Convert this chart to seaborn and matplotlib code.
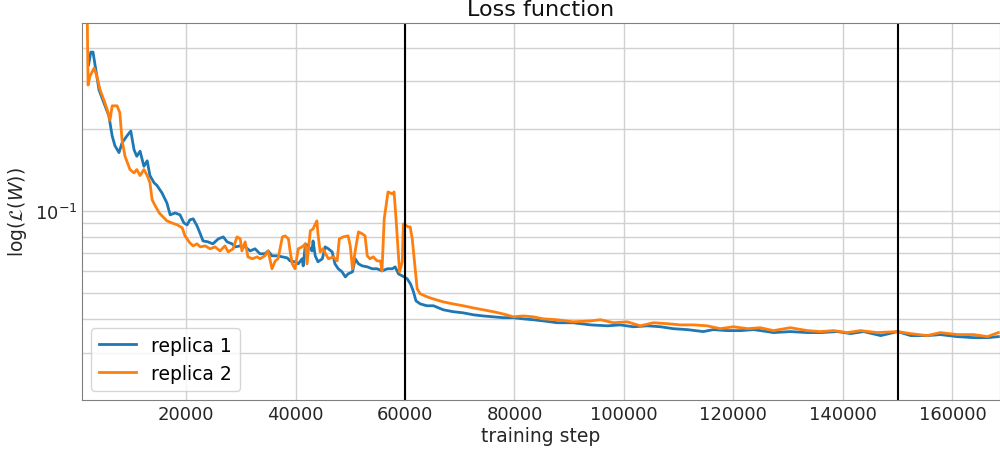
import matplotlib
matplotlib.use("Agg")
import matplotlib.pyplot as plt
import matplotlib.ticker as mticker
import seaborn as sns

# replica 1 (blue)
steps_1 = [2200, 2600, 3000, 3400, 4100, 5000, 5900, 6500, 7000, 7750,
           8300, 9200, 9900, 10500, 11000, 11600, 12300, 12900, 13400, 14150,
           14700, 15600, 16500, 17100, 18000, 18900, 19600, 20200, 20700, 21300,
           22000, 22600, 23100, 24000, 24900, 25900, 26800, 27500, 28400, 29000,
           29900, 30800, 31700, 32600, 33500, 34400, 35000, 35700, 36600, 37600,
           38500, 39000, 39900, 40500, 41200, 41400, 41800, 42300, 43000, 43200,
           43600, 44100, 44900, 45400, 46000, 46700, 47200, 47800, 48500, 49100,
           49600, 50400, 50900, 51500, 52200, 53100, 54000, 54900, 55800, 56800,
           57700, 58200, 58800, 59500, 60400, 61000, 61500, 62000, 62800, 64000,
           65200, 67000, 68800, 70600, 72500, 74300, 76100, 77900, 79800, 81600,
           83400, 85300, 87800, 90700, 93900, 97000, 99300, 101700, 104300, 106700,
           109000, 111600, 114500, 116300, 118900, 121300, 123700, 126200, 127300, 130400,
           133500, 135900, 139000, 141400, 143800, 146900, 150000, 152400, 155500, 157800,
           160900, 163900, 166400, 168400]
loss_1 = [0.346, 0.385, 0.385, 0.342, 0.279, 0.250, 0.224, 0.189, 0.174, 0.164,
          0.178, 0.189, 0.197, 0.168, 0.159, 0.166, 0.146, 0.153, 0.135, 0.127,
          0.124, 0.1165, 0.107, 0.0967, 0.0983, 0.0967, 0.0903, 0.0888, 0.0927, 0.0935,
          0.0881, 0.0823, 0.0775, 0.0769, 0.0756, 0.0789, 0.0802, 0.0769, 0.0756, 0.0737,
          0.0743, 0.0737, 0.0712, 0.0725, 0.0695, 0.0695, 0.0712, 0.0683, 0.0683, 0.0677,
          0.0671, 0.0654, 0.0649, 0.0638, 0.0666, 0.0627, 0.0756, 0.0743, 0.0712, 0.0775,
          0.0683, 0.0649, 0.0666, 0.0737, 0.0725, 0.0706, 0.0638, 0.0612, 0.0596, 0.0571,
          0.0586, 0.0596, 0.0666, 0.0638, 0.0627, 0.0622, 0.0612, 0.0612, 0.0601, 0.0612,
          0.0612, 0.0622, 0.0586, 0.0576, 0.0562, 0.0538, 0.0507, 0.0466, 0.0454, 0.0447,
          0.0447, 0.0432, 0.0425, 0.0421, 0.0414, 0.0410, 0.0407, 0.0404, 0.0404, 0.0400,
          0.0397, 0.0393, 0.0387, 0.0387, 0.0380, 0.0377, 0.0380, 0.0374, 0.0377, 0.0374,
          0.0368, 0.0365, 0.0359, 0.0365, 0.0362, 0.0362, 0.0365, 0.0359, 0.0356, 0.0359,
          0.0356, 0.0356, 0.0359, 0.0353, 0.0359, 0.0347, 0.0359, 0.0347, 0.0347, 0.0350,
          0.0344, 0.0341, 0.0341, 0.0344]

# replica 2 (orange)
steps_2 = [1900, 2100, 2450, 3200, 3700, 4300, 5000, 5600, 6100, 6500,
           7400, 7900, 8300, 8850, 9760, 10500, 11000, 11600, 12300, 12900,
           13400, 13800, 14300, 15100, 15600, 16500, 17400, 18400, 19300, 19800,
           20700, 21300, 22000, 22600, 23500, 24400, 25300, 26200, 27100, 27700,
           28600, 29300, 29900, 30200, 30800, 31300, 32100, 33000, 33500, 34400,
           35000, 35700, 36300, 36800, 37600, 38100, 38700, 39000, 39400, 39900,
           40500, 41200, 41800, 42100, 42700, 43200, 43900, 44100, 44500, 45000,
           46000, 46900, 47600, 48000, 48700, 49600, 50000, 50400, 50500, 50900,
           51500, 52200, 52700, 53100, 53600, 54200, 54900, 55500, 55800, 56200,
           56900, 57700, 58000, 58400, 58800, 59000, 59500, 59700, 60600, 60950,
           61320, 61860, 62220, 62770, 64050, 65150, 66980, 68800, 70630, 72460,
           74290, 76120, 77940, 79770, 81600, 83430, 85260, 87800, 90700, 93900,
           95700, 98100, 100600, 103000, 105400, 107900, 110300, 112700, 115200, 117600,
           120000, 122600, 124900, 127300, 130400, 133500, 135900, 138300, 140800, 143200,
           146300, 150000, 152300, 155400, 157800, 160900, 163900, 166400, 168400]
loss_2 = [0.62, 0.291, 0.314, 0.336, 0.314, 0.279, 0.256, 0.236, 0.216, 0.244,
          0.244, 0.230, 0.183, 0.159, 0.142, 0.138, 0.142, 0.135, 0.142, 0.135,
          0.127, 0.110, 0.105, 0.0983, 0.0959, 0.0919, 0.0903, 0.0888, 0.0866, 0.0809,
          0.0762, 0.0743, 0.0756, 0.0737, 0.0743, 0.0725, 0.0737, 0.0712, 0.0743, 0.0706,
          0.0725, 0.0802, 0.0789, 0.0712, 0.0769, 0.0677, 0.0666, 0.0677, 0.0666, 0.0683,
          0.0712, 0.0612, 0.0654, 0.0666, 0.0802, 0.0809, 0.0789, 0.0712, 0.0638, 0.0612,
          0.0725, 0.0737, 0.0756, 0.0638, 0.0844, 0.0858, 0.0919, 0.0823, 0.0706, 0.0725,
          0.0666, 0.0677, 0.0654, 0.0789, 0.0802, 0.0809, 0.0743, 0.0612, 0.0622, 0.0712,
          0.0837, 0.0823, 0.0809, 0.0683, 0.0666, 0.0677, 0.0654, 0.0654, 0.0601, 0.0935,
          0.1175, 0.1155, 0.1175, 0.0911, 0.0683, 0.0596, 0.0649, 0.0896, 0.0873, 0.0873,
          0.0789, 0.0612, 0.0516, 0.0495, 0.0482, 0.0474, 0.0462, 0.0454, 0.0447, 0.0439,
          0.0432, 0.0425, 0.0417, 0.0407, 0.0410, 0.0407, 0.0400, 0.0397, 0.0390, 0.0393,
          0.0397, 0.0387, 0.0390, 0.0377, 0.0387, 0.0384, 0.0380, 0.0380, 0.0377, 0.0368,
          0.0374, 0.0368, 0.0371, 0.0362, 0.0371, 0.0362, 0.0359, 0.0362, 0.0356, 0.0362,
          0.0356, 0.0359, 0.0353, 0.0347, 0.0356, 0.0350, 0.0350, 0.0344, 0.0356]

phase_ends = [60000, 150000]

fig = plt.figure(figsize=(10, 4.52), dpi=100)
ax = fig.add_axes([0.082, 0.113, 0.918, 0.834])

sns.lineplot(x=steps_1, y=loss_1, ax=ax, color="#1f77b4", lw=2, label="replica 1")
sns.lineplot(x=steps_2, y=loss_2, ax=ax, color="#ff7f0e", lw=2, label="replica 2")
for s in phase_ends:
    ax.axvline(s, color="black", lw=1.5)

ax.set_yscale("log")
ax.set_xlim(990, 168700)
ax.set_ylim(0.0201, 0.493)
ax.xaxis.set_major_locator(mticker.MultipleLocator(20000))

ax.grid(True, which="major", color="0.82", lw=1)
ax.grid(True, which="minor", axis="y", color="0.82", lw=1)
ax.set_axisbelow(True)
ax.tick_params(which="both", length=0, labelsize=13, labelcolor="#262626")
for sp in ax.spines.values():
    sp.set_color("0.5")

ax.set_title("Loss function", fontsize=16, color="#111111")
ax.set_xlabel("training step", fontsize=13.5, color="#262626", labelpad=2)
ax.set_ylabel(r"$\log(\mathcal{L}(W))$", fontsize=13.5, color="#262626")
ax.legend(loc="lower left", fontsize=13.5)

fig.savefig("out.png", dpi=100)
